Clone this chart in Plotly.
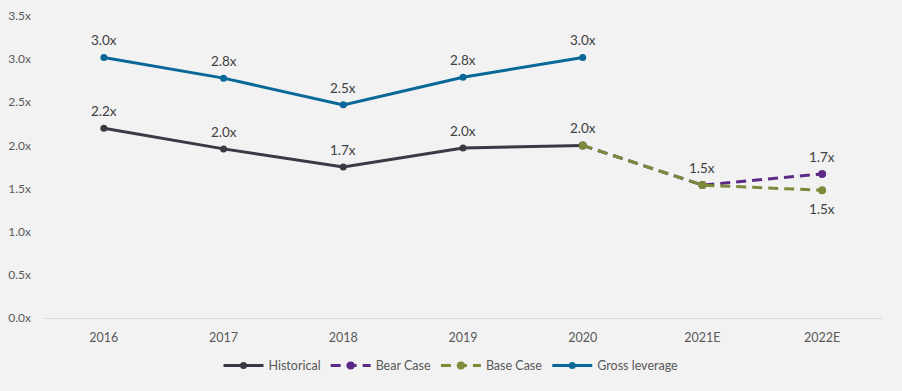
import plotly.graph_objects as go

categories = ["2016", "2017", "2018", "2019", "2020", "2021E", "2022E"]
historical = [2.20, 1.96, 1.75, 1.97, 2.00, None, None]
bear_case = [None, None, None, None, 2.00, 1.54, 1.67]
base_case = [None, None, None, None, 2.00, 1.54, 1.48]
gross_leverage = [3.02, 2.78, 2.47, 2.79, 3.02, None, None]

hist_labels = ["2.2x", "2.0x", "1.7x", "2.0x", "2.0x", "", ""]
bear_labels = ["", "", "", "", "", "", "1.7x"]
base_labels = ["", "", "", "", "", "1.5x", "1.5x"]
gross_labels = ["3.0x", "2.8x", "2.5x", "2.8x", "3.0x", "", ""]
y_ticks = [0, 0.5, 1.0, 1.5, 2.0, 2.5, 3.0, 3.5]
y_tick_text = ["0.0x", "0.5x", "1.0x", "1.5x", "2.0x", "2.5x", "3.0x", "3.5x"]

font = "Lato"
txt_color = "#404040"

series = [
    ("Historical", historical, hist_labels, "#3a3944", "solid", 7, ["above"] * 7),
    ("Bear Case", bear_case, bear_labels, "#5b2a86", "10px,6px", 8, ["above"] * 7),
    ("Base Case", base_case, base_labels, "#7e8a3a", "10px,6px", 8, ["above"] * 6 + ["below"]),
    ("Gross leverage", gross_leverage, gross_labels, "#0a6898", "solid", 7, ["above"] * 7),
]

fig = go.Figure()
for name, vals, labels, color, dash, msize, places in series:
    fig.add_trace(go.Scatter(
        x=categories, y=vals, name=name, mode="lines+markers",
        line=dict(color=color, width=3, dash=dash),
        marker=dict(size=msize, color=color)))
    for idx, (v, lab, pl) in enumerate(zip(vals, labels, places)):
        if v is None or not lab:
            continue
        fig.add_annotation(x=idx, y=v, text=lab, showarrow=False,
                           yshift=17 if pl == "above" else -19,
                           font=dict(family=font, size=13.5, color=txt_color))

fig.update_layout(
    width=902, height=391,
    paper_bgcolor="#f2f2f2", plot_bgcolor="#f2f2f2",
    margin=dict(l=44, r=20, t=16, b=73, autoexpand=False),
    font=dict(family=font, size=12, color=txt_color),
    showlegend=True,
    legend=dict(orientation="h", x=0.5, xanchor="center", xref="container",
                y=0.064, yanchor="middle", yref="container", itemwidth=40,
                font=dict(family=font, size=12.5, color="#595959"),
                bgcolor="rgba(0,0,0,0)"),
    xaxis=dict(type="category", categoryorder="array", categoryarray=categories,
               range=[-0.5, len(categories) - 0.5],
               showgrid=False, showline=False, zeroline=False,
               ticks="", automargin=False, ticklabelstandoff=10,
               tickfont=dict(family=font, size=12.5, color="#595959")),
    yaxis=dict(range=[0, 3.5], tickvals=y_ticks, ticktext=y_tick_text, showgrid=False,
               zeroline=True, zerolinecolor="#d9d9d9", zerolinewidth=1,
               ticks="", ticklabelstandoff=12, automargin=False,
               tickfont=dict(family=font, size=12, color="#595959")),
)
fig.write_html("out.html", config={"displayModeBar": False},
               post_script="document.body.style.margin='0';")
